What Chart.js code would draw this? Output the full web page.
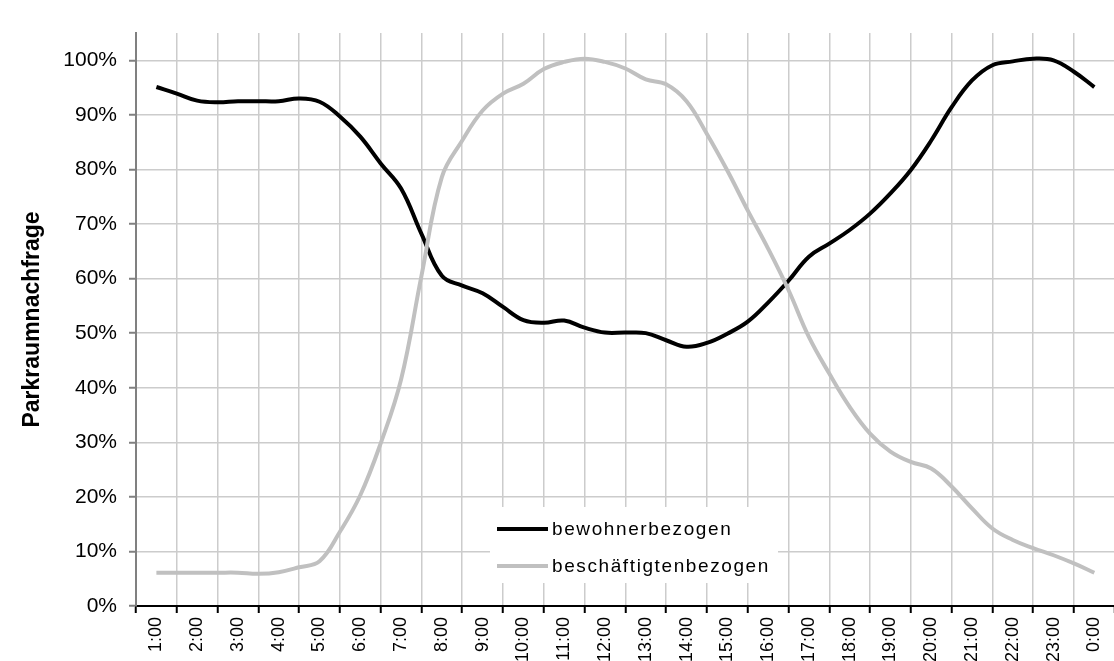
<!DOCTYPE html>
<html lang="de">
<head>
<meta charset="utf-8">
<title>Parkraumnachfrage</title>
<script src="https://cdn.jsdelivr.net/npm/chart.js@4.4.1/dist/chart.umd.min.js"></script>
<style>
    html, body { margin: 0; padding: 0; background: #fff; overflow: hidden; }
    #wrap { width: 1120px; height: 680px; }
</style>
</head>
<body>
<div id="wrap"><canvas id="graficoParkraum" width="1120" height="680"></canvas></div>
<script>
const stunden = ['1:00', '2:00', '3:00', '4:00', '5:00', '6:00', '7:00', '8:00', '9:00', '10:00', '11:00', '12:00',
    '13:00', '14:00', '15:00', '16:00', '17:00', '18:00', '19:00', '20:00', '21:00', '22:00', '23:00', '0:00'];

// Messpunkte alle halbe Stunde (1 = 1:00 ... 24 = 0:00)
const zeitpunkte = [1, 1.5, 2, 2.5, 3, 3.5, 4, 4.5, 5, 5.5, 6, 6.5, 7, 7.5, 8, 8.5, 9, 9.5, 10, 10.5, 11, 11.5, 12, 12.5,
    13, 13.5, 14, 14.5, 15, 15.5, 16, 16.5, 17, 17.5, 18, 18.5, 19, 19.5, 20, 20.5, 21, 21.5, 22, 22.5, 23, 23.5, 24];

const bewohnerbezogen = [95.1, 93.9, 92.6, 92.3, 92.5, 92.5, 92.5, 93.0, 92.4, 89.7, 86.0, 81.1, 76.5, 68.2, 60.5, 58.7,
    57.3, 54.8, 52.4, 51.9, 52.3, 51.0, 50.1, 50.1, 50.0, 48.7, 47.5, 48.2, 49.9, 52.1, 55.6, 59.6,
    64.0, 66.4, 68.9, 71.9, 75.6, 79.9, 85.3, 91.4, 96.3, 99.1, 99.8, 100.3, 100.0, 97.9, 95.1];

const beschaeftigtenbezogen = [6.1, 6.1, 6.1, 6.1, 6.1, 5.9, 6.2, 7.1, 8.2, 13.6, 20.3, 29.8, 41.5, 60.5, 78.6, 85.3,
    90.8, 93.9, 95.7, 98.4, 99.7, 100.3, 99.7, 98.5, 96.5, 95.6, 92.5, 86.5, 79.8, 72.5, 65.5, 57.9,
    49.3, 42.6, 36.5, 31.6, 28.3, 26.4, 25.2, 21.9, 17.9, 14.2, 12.1, 10.6, 9.3, 7.8, 6.1];

const yTicks = [0, 10, 20, 30, 40, 50, 60, 70, 80, 90, 100];

const punkte = (werte) => werte.map((v, i) => ({ x: zeitpunkte[i], y: v }));

// Legende mitten im Diagramm, wie im Original
const legendeImDiagramm = {
    id: 'legendeImDiagramm',
    beforeDatasetsDraw(chart, args, opts) {
        const ctx = chart.ctx;
        ctx.save();
        ctx.fillStyle = '#fff';
        ctx.fillRect(opts.x, opts.y, opts.width, opts.height);
        ctx.font = opts.font;
        ctx.letterSpacing = opts.letterSpacing;
        ctx.textBaseline = 'middle';
        ctx.textAlign = 'left';
        chart.data.datasets.forEach((ds, i) => {
            const y = opts.y + opts.firstRow + i * opts.rowGap;
            ctx.strokeStyle = ds.borderColor;
            ctx.lineWidth = ds.borderWidth;
            ctx.beginPath();
            ctx.moveTo(opts.x + 7, y);
            ctx.lineTo(opts.x + 58, y);
            ctx.stroke();
            ctx.fillStyle = '#000';
            ctx.fillText(ds.label, opts.x + 62, y + 1);
        });
        ctx.restore();
    }
};

document.addEventListener('DOMContentLoaded', function () {
    const graficoParkraum = document.getElementById('graficoParkraum');
    if (!graficoParkraum) return;

    new Chart(graficoParkraum, {
        type: 'line',
        data: {
            labels: stunden,
            datasets: [{
                label: 'bewohnerbezogen',
                data: punkte(bewohnerbezogen),
                xAxisID: 'xd',
                borderColor: '#000000',
                borderWidth: 4,
                pointRadius: 0,
                tension: 0.4,
                order: 1
            }, {
                label: 'beschäftigtenbezogen',
                data: punkte(beschaeftigtenbezogen),
                xAxisID: 'xd',
                borderColor: '#c0c0c0',
                borderWidth: 4,
                pointRadius: 0,
                tension: 0.4,
                order: 0
            }]
        },
        options: {
            responsive: false,
            animation: false,
            devicePixelRatio: 1,
            layout: { padding: { top: 33, right: 3, left: 0, bottom: 0 } },
            plugins: {
                legend: { display: false },
                tooltip: { enabled: false },
                legendeImDiagramm: {
                    x: 490, y: 507, width: 288, height: 76,
                    firstRow: 22, rowGap: 37,
                    font: '19px "Liberation Sans", Arial, sans-serif',
                    letterSpacing: '1.6px'
                }
            },
            scales: {
                x: {
                    type: 'category',
                    offset: true,
                    grid: { offset: true, color: '#cccccc', lineWidth: 1.5, tickColor: '#000', tickLength: 7, tickWidth: 2 },
                    border: { color: '#000', width: 2 },
                    ticks: {
                        autoSkip: false,
                        minRotation: 90,
                        maxRotation: 90,
                        padding: 4,
                        color: '#000',
                        font: { family: '"Liberation Sans", Arial, sans-serif', size: 18 }
                    },
                    afterFit: (scale) => { scale.height = 74; }
                },
                xd: {
                    type: 'linear',
                    display: false,
                    min: 0.5,
                    max: 24.5
                },
                y: {
                    min: 0,
                    max: 105,
                    afterBuildTicks: (scale) => {
                        scale.ticks = yTicks.map(v => ({ value: v }));
                    },
                    grid: { color: '#cccccc', lineWidth: 1.5, tickColor: '#808080', tickLength: 7, tickWidth: 2 },
                    border: { color: '#808080', width: 2 },
                    ticks: {
                        padding: 12,
                        color: '#000',
                        font: { family: '"Liberation Sans", Arial, sans-serif', size: 21 },
                        callback: (v) => v + '%'
                    },
                    title: {
                        display: true,
                        text: 'Parkraumnachfrage',
                        color: '#000',
                        padding: { top: 19, bottom: 0 },
                        font: { family: '"Liberation Sans", Arial, sans-serif', size: 23, weight: 'bold' }
                    },
                    afterFit: (scale) => { scale.width = 136; }
                }
            }
        },
        plugins: [legendeImDiagramm]
    });
});
</script>
</body>
</html>
